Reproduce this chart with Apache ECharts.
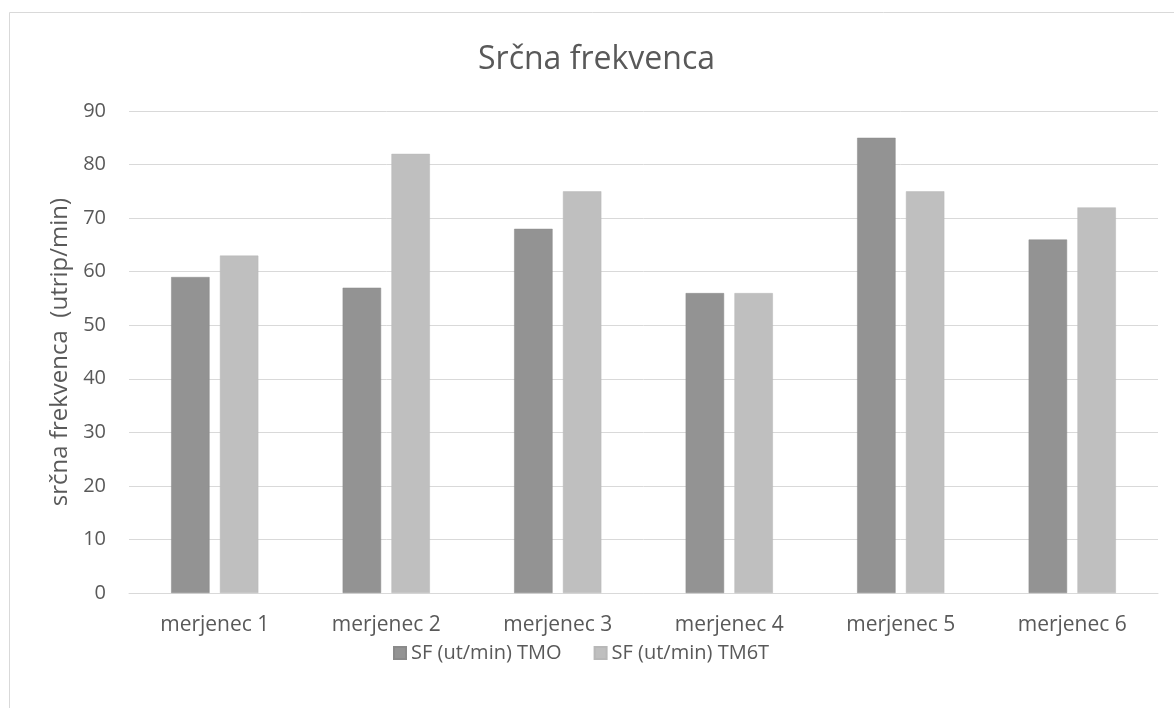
<!DOCTYPE html>
<html>
<head>
<meta charset="utf-8">
<script src="https://cdn.jsdelivr.net/npm/echarts@6/dist/echarts.min.js"></script>
<style>
  html, body { margin: 0; padding: 0; background: #fff; }
  #chart { width: 1174px; height: 708px; }
</style>
</head>
<body>
<div id="chart"></div>
<script>
// Heart-rate measurements per subject
const categories = ['merjenec 1', 'merjenec 2', 'merjenec 3', 'merjenec 4', 'merjenec 5', 'merjenec 6'];
const seriesNames = ['SF (ut/min) TMO', 'SF (ut/min) TM6T'];
const valuesTMO = [59, 57, 68, 56, 85, 66];
const valuesTM6T = [63, 82, 75, 56, 75, 72];

const FONT = '"Open Sans", "Noto Sans", sans-serif';
const TEXT = '#595959';

const chart = echarts.init(document.getElementById('chart'), null, { renderer: 'canvas' });
chart.setOption({
  animation: false,
  backgroundColor: '#fff',
  textStyle: { fontFamily: FONT },
  title: {
    text: 'Srčna frekvenca',
    left: 473,
    top: 39,
    textStyle: { fontFamily: FONT, fontSize: 32, fontWeight: 'normal', color: TEXT }
  },
  graphic: [{
    type: 'rect',
    shape: { x: 9.5, y: 12.5, width: 1300, height: 900 },
    style: { fill: 'none', stroke: '#d9d9d9', lineWidth: 1 },
    silent: true
  }],
  legend: {
    top: 638,
    left: 388,
    itemWidth: 12,
    itemHeight: 12,
    itemGap: 32,
    icon: 'rect',
    textStyle: { fontFamily: FONT, fontSize: 20, color: TEXT },
    data: seriesNames
  },
  grid: { left: 129, right: 16, top: 111, bottom: 115, containLabel: false },
  xAxis: {
    type: 'category',
    data: categories,
    axisLine: { lineStyle: { color: '#d9d9d9', width: 1 } },
    axisTick: { show: false },
    axisLabel: { fontFamily: FONT, fontSize: 21, color: TEXT, margin: 22 }
  },
  yAxis: {
    type: 'value',
    min: 0,
    max: 90,
    interval: 10,
    name: 'srčna frekvenca  (utrip/min)',
    nameLocation: 'middle',
    nameGap: 52,
    nameTextStyle: { fontFamily: FONT, fontSize: 24, color: TEXT },
    axisLine: { show: false },
    axisTick: { show: false },
    axisLabel: { fontFamily: FONT, fontSize: 20, color: TEXT, margin: 23 },
    splitLine: { lineStyle: { color: '#d9d9d9', width: 1 } }
  },
  series: [
    {
      name: seriesNames[0],
      type: 'bar',
      data: valuesTMO,
      barWidth: '22.4%',
      barGap: '27%',
      itemStyle: { color: '#939393', borderColor: '#8a8a8a', borderWidth: 0.5 }
    },
    {
      name: seriesNames[1],
      type: 'bar',
      data: valuesTM6T,
      barWidth: '22.4%',
      itemStyle: { color: '#bfbfbf', borderColor: '#b8b8b8', borderWidth: 0.5 }
    }
  ]
});
</script>
</body>
</html>
